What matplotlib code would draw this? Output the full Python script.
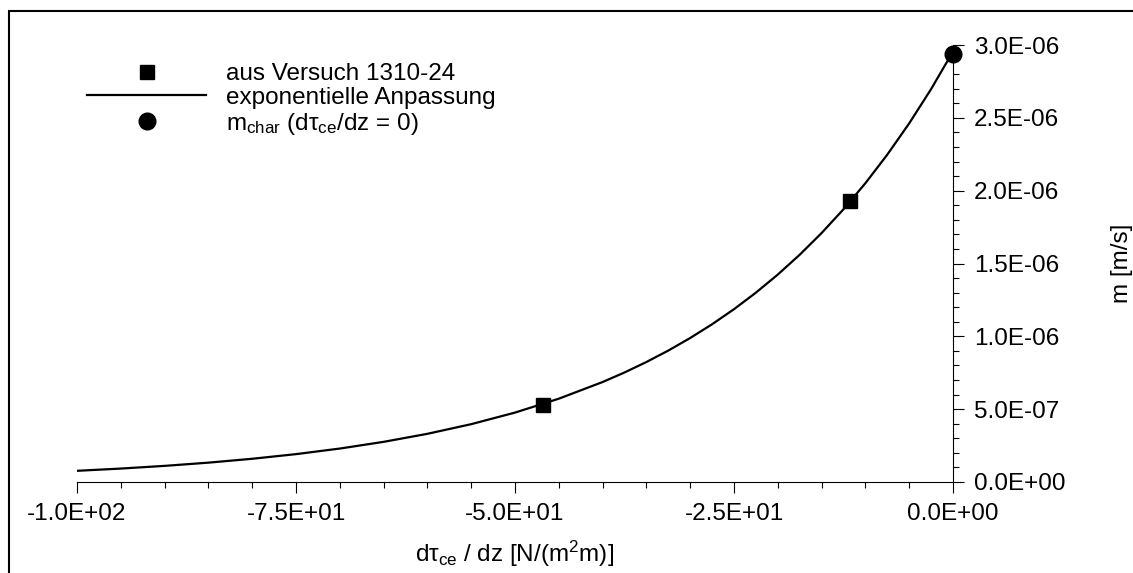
import matplotlib
matplotlib.use('Agg')
import matplotlib.pyplot as plt
import matplotlib.patches as patches
from matplotlib.ticker import MultipleLocator, FuncFormatter

plt.rcParams['font.family'] = ['Liberation Sans', 'DejaVu Sans']
plt.rcParams['mathtext.fontset'] = 'custom'
plt.rcParams['mathtext.rm'] = 'Liberation Sans'
plt.rcParams['mathtext.it'] = 'Liberation Sans'
plt.rcParams['mathtext.bf'] = 'Liberation Sans:bold'

# Versuch 1310-24
x_exp = [-46.8, -11.8]
m_exp = [0.532e-6, 1.929e-6]

# exponentielle Anpassung
x_fit = [-100, -95, -90, -85, -80, -75, -70, -65, -60, -55, -50, -45, -40,
         -37.5, -35, -32.5, -30, -27.5, -25, -22.5, -20, -17.5, -15,
         -12.5, -10, -7.5, -5, -2.5, 0]
m_fit = [0.0768e-6, 0.0922e-6, 0.1107e-6, 0.1328e-6, 0.1594e-6, 0.1913e-6,
         0.2296e-6, 0.2756e-6, 0.3308e-6, 0.3970e-6, 0.4765e-6, 0.5719e-6,
         0.6863e-6, 0.7518e-6, 0.8237e-6, 0.9023e-6, 0.9885e-6, 1.0830e-6,
         1.1864e-6, 1.2999e-6, 1.4240e-6, 1.5601e-6, 1.7092e-6, 1.8724e-6,
         2.0513e-6, 2.2474e-6, 2.4621e-6, 2.6973e-6, 2.955e-6]

# m_char
x_char = [0.0]
m_char = [2.94e-6]

fs = 17.5


def sci(v, pos):
    s = '%.1E' % v
    if s.startswith('-0.0'):
        s = s[1:]
    return s


fig = plt.figure(figsize=(11.33, 5.73), dpi=100)
ax = fig.add_axes([77 / 1133, 1 - 482 / 573, 876 / 1133, 437 / 573])

ax.plot(x_fit, m_fit, color='black', lw=1.6, label='exponentielle Anpassung', zorder=2)
ax.plot(x_exp, m_exp, 's', color='black', ms=10, label='aus Versuch 1310-24', zorder=3)
ax.plot(x_char, m_char, 'o', color='black', ms=12, clip_on=False,
        label=r'm$_{char}$ (d$\tau_{ce}$/dz = 0)', zorder=4)

ax.set_xlim(-100, 0)
ax.set_ylim(0, 3e-6)

for s in ['top', 'left']:
    ax.spines[s].set_visible(False)
ax.spines['right'].set_position(('data', 0))
ax.spines['bottom'].set_linewidth(0.8)
ax.spines['right'].set_linewidth(0.8)

ax.yaxis.tick_right()
ax.yaxis.set_label_position('right')
ax.xaxis.set_major_locator(MultipleLocator(25))
ax.xaxis.set_minor_locator(MultipleLocator(5))
ax.yaxis.set_major_locator(MultipleLocator(5e-7))
ax.yaxis.set_minor_locator(MultipleLocator(1e-7))
ax.xaxis.set_major_formatter(FuncFormatter(sci))
ax.yaxis.set_major_formatter(FuncFormatter(sci))
ax.tick_params(which='major', length=8, width=0.8, labelsize=fs, pad=7)
ax.tick_params(which='minor', length=4.5, width=0.8)

ax.set_xlabel(r'd$\tau_{ce}$ / dz [N/(m$^2$m)]', fontsize=fs)
ax.set_ylabel('m [m/s]', fontsize=fs)
ax.xaxis.set_label_coords(0.5, -0.13)
ax.yaxis.set_label_coords(1.18, 0.5)

h, l = ax.get_legend_handles_labels()
order = [1, 0, 2]
ax.legend([h[i] for i in order], [l[i] for i in order], loc='upper left',
          bbox_to_anchor=(87 / 1133, 1 - 63 / 573), bbox_transform=fig.transFigure,
          frameon=False, fontsize=fs, handlelength=4.9, handletextpad=0.8,
          labelspacing=0.08, borderpad=0, borderaxespad=0)

# frame around the picture
fig.patches.append(patches.Rectangle((9 / 1133, -0.1), 1.2, 1 - 10.5 / 573 + 0.1,
                                     transform=fig.transFigure, fill=False,
                                     lw=1.5, edgecolor='black', clip_on=False))

fig.savefig('out.png', dpi=100)
